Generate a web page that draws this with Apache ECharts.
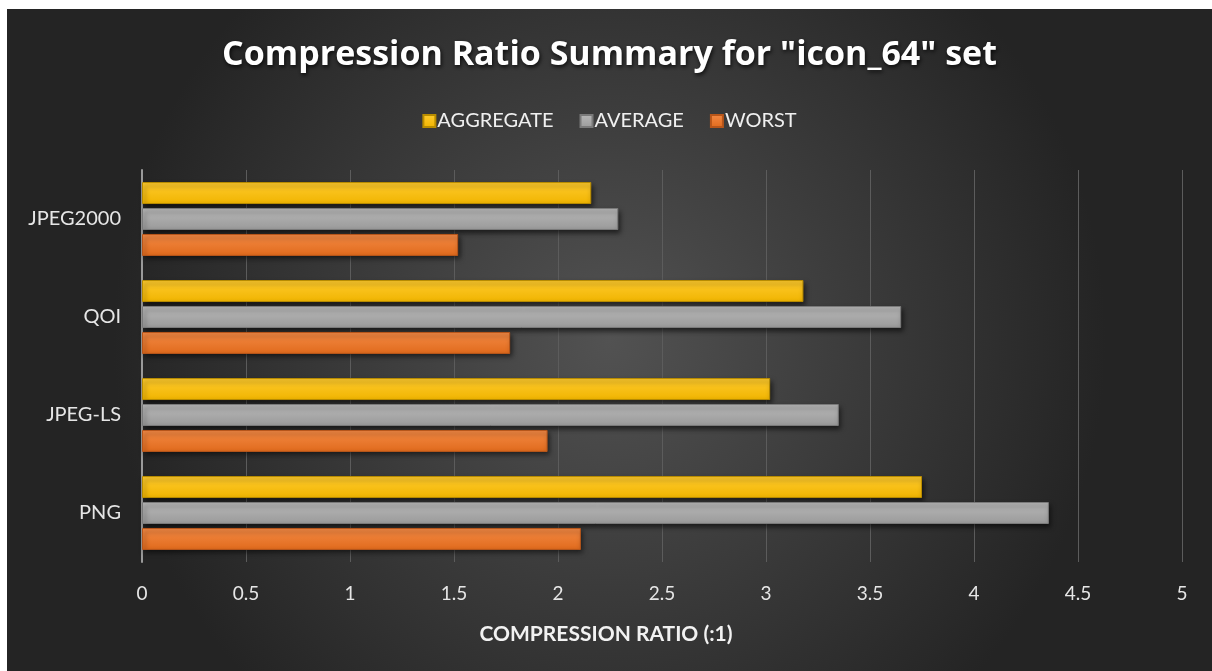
<!DOCTYPE html>
<html>
<head>
<meta charset="utf-8">
<title>Compression Ratio Summary</title>
<script src="https://cdn.jsdelivr.net/npm/echarts@6/dist/echarts.min.js"></script>
<style>
  html, body {
    margin: 0;
    padding: 0;
    background: #fff;
  }
  #main {
    position: absolute;
    left: 7px;
    top: 9px;
    width: 1205px;
    height: 662px;
  }
</style>
</head>
<body>
<div id="main"></div>
<script>
// data
const categories = ['PNG', 'JPEG-LS', 'QOI', 'JPEG2000']
const aggregate = [3.75, 3.02, 3.18, 2.16]
const average = [4.36, 3.35, 3.65, 2.29]
const worst = [2.11, 1.95, 1.77, 1.52]
const xTicks = { min: 0, max: 5, interval: 0.5 }

const chart = echarts.init(document.getElementById('main'))

function barGrad(top, bottom) {
  return new echarts.graphic.LinearGradient(0, 0, 0, 1, [
    { offset: 0, color: top },
    { offset: 1, color: bottom }
  ])
}

function barSeries(name, data, top, bottom, border) {
  return {
    name: name,
    type: 'bar',
    data: data,
    barWidth: 22,
    barGap: '18%',
    itemStyle: {
      color: barGrad(top, bottom),
      borderColor: border,
      borderWidth: 1,
      shadowColor: 'rgba(0,0,0,0.6)',
      shadowBlur: 5,
      shadowOffsetX: 2,
      shadowOffsetY: 3
    },
    emphasis: { disabled: true }
  }
}

chart.setOption({
  animation: false,
  backgroundColor: {
    type: 'radial',
    x: 0.5,
    y: 0.5,
    r: 0.75,
    colorStops: [
      { offset: 0, color: '#525252' },
      { offset: 1, color: '#242424' }
    ]
  },
  title: {
    text: 'Compression Ratio Summary for "icon_64" set',
    left: 'center',
    top: 24,
    textStyle: {
      color: '#ffffff',
      fontFamily: 'Open Sans',
      fontWeight: 'bold',
      fontSize: 34,
      textShadowColor: 'rgba(0,0,0,0.8)',
      textShadowBlur: 4,
      textShadowOffsetX: 1,
      textShadowOffsetY: 2
    }
  },
  legend: {
    top: 97,
    left: 'center',
    itemWidth: 12,
    itemHeight: 12,
    itemGap: 26,
    icon: 'rect',
    textStyle: {
      color: '#f0f0f0',
      fontFamily: 'Lato',
      fontSize: 20,
      padding: [0, 0, 0, -3]
    }
  },
  grid: {
    left: 135,
    right: 30,
    top: 161,
    bottom: 109
  },
  xAxis: {
    type: 'value',
    min: xTicks.min,
    max: xTicks.max,
    interval: xTicks.interval,
    name: 'COMPRESSION RATIO (:1)',
    nameLocation: 'middle',
    nameGap: 62,
    nameTextStyle: {
      color: '#f2f2f2',
      fontFamily: 'Lato',
      fontWeight: 'bold',
      fontSize: 21,
      verticalAlign: 'top',
      // push the name back to the middle of the whole chart
      padding: [0, 112, 0, 0]
    },
    axisLine: { show: false },
    axisTick: { show: false },
    axisLabel: {
      color: '#e6e6e6',
      fontFamily: 'Lato',
      fontSize: 19,
      margin: 22
    },
    splitLine: {
      show: true,
      lineStyle: { color: '#5c5c5c', width: 1 }
    }
  },
  yAxis: {
    type: 'category',
    data: categories,
    axisLine: {
      show: true,
      lineStyle: { color: '#9a9a9a', width: 2 }
    },
    axisTick: { show: false },
    axisLabel: {
      color: '#e6e6e6',
      fontFamily: 'Lato',
      fontSize: 20,
      margin: 21
    }
  },
  series: [
    barSeries('AGGREGATE', aggregate, '#ffcb2e', '#f0b400', '#b88c00'),
    barSeries('AVERAGE', average, '#b8b8b8', '#9a9a9a', '#7a7a7a'),
    barSeries('WORST', worst, '#f48a45', '#e06a1c', '#b8561a')
  ]
})
</script>
</body>
</html>
